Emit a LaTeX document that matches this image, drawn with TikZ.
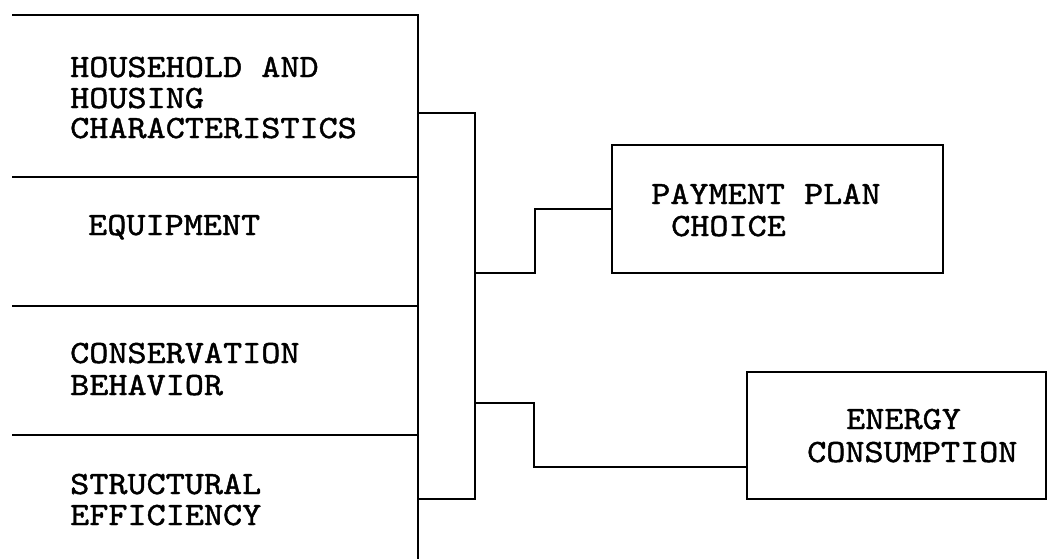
\documentclass[tikz,border=0pt]{standalone}
\usepackage{fontspec}
\newfontfamily\cour{lmmono10-regular.otf}[FakeStretch=1.12,FakeBold=1.3]
\begin{document}
\begin{tikzpicture}[x=1pt,y=-1pt,
  wire/.style={draw,line width=2.5pt},
  box/.style={draw,line width=2.5pt,rectangle,inner sep=0pt},
  lbl/.style={anchor=base west,inner sep=0pt,font=\cour\fontsize{32.5}{32}\selectfont}]
\useasboundingbox (0,0) rectangle (1048,558);
% left column
\coordinate (L0) at (12,15);  \coordinate (R0) at (418,15);
\coordinate (L1) at (12,177); \coordinate (R1) at (418,177);
\coordinate (L2) at (12,306); \coordinate (R2) at (418,306);
\coordinate (L3) at (12,435); \coordinate (R3) at (418,435);
\coordinate (Rb) at (418,560);
\draw[wire] (L0) -- (R0) -- (Rb);
\draw[wire] (L1) -- (R1);
\draw[wire] (L2) -- (R2);
\draw[wire] (L3) -- (R3);
% labels
\node[lbl] (hh1) at (70,77) {HOUSEHOLD AND};
\node[lbl] (hh2) at (70,108) {HOUSING};
\node[lbl] (hh3) at (70,138) {CHARACTERISTICS};
\node[lbl] (eq) at (88,235) {EQUIPMENT};
\node[lbl] (cb1) at (70,363) {CONSERVATION};
\node[lbl] (cb2) at (70,395) {BEHAVIOR};
\node[lbl] (se1) at (70,494) {STRUCTURAL};
\node[lbl] (se2) at (70,525) {EFFICIENCY};
% boxes
\node[box,minimum width=331pt,minimum height=128pt] (pp) at (777.5,209) {};
\node[box,minimum width=299pt,minimum height=127pt] (ec) at (896.5,435.5) {};
\node[lbl] (pp1) at (651,204) {PAYMENT PLAN};
\node[lbl] (pp2) at (671,236) {CHOICE};
\node[lbl] (ec1) at (846,429) {ENERGY};
\node[lbl] (ec2) at (807,462) {CONSUMPTION};
% bracket
\coordinate (bt) at (418,113); \coordinate (bk1) at (475,113);
\coordinate (bk2) at (475,499); \coordinate (bb) at (418,499);
\draw[wire] (bt) -- (bk1) -- (bk2) -- (bb);
% branch to payment plan
\coordinate (j1) at (475,273); \coordinate (s1) at (535,273);
\draw[wire] (j1) -- (s1) |- (pp.west);
% branch to energy consumption
\coordinate (j2) at (475,403); \coordinate (s2) at (534,403);
\coordinate (ecin) at (ec.west |- 0,467);
\draw[wire] (j2) -- (s2) |- (ecin);
\end{tikzpicture}
\end{document}
